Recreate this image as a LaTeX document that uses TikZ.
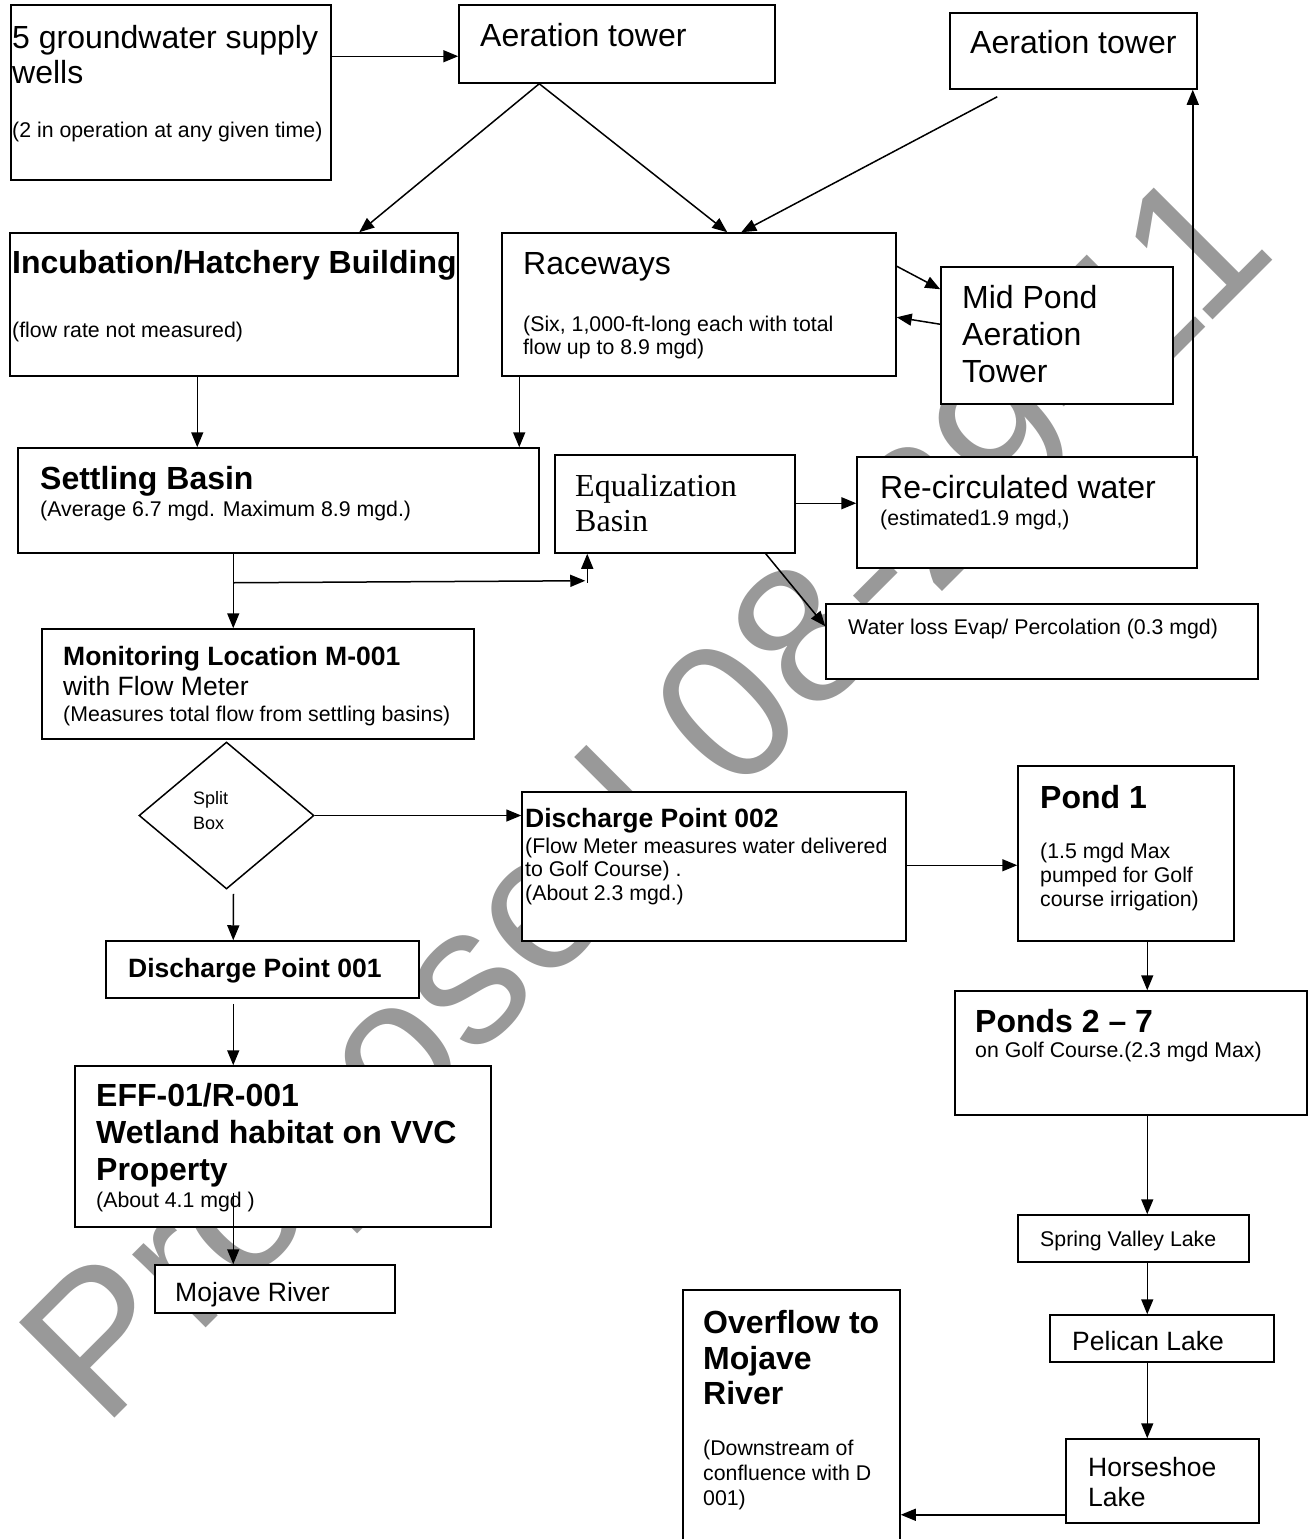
\documentclass[tikz,border=0pt]{standalone}
\usepackage{fontspec}
\setmainfont{Liberation Sans}
\newfontfamily\serifF{Liberation Serif}
\usetikzlibrary{arrows.meta,shapes.geometric}
\tikzset{
  bx/.style={draw, line width=1.5pt, fill=white, rectangle, inner sep=0pt},
  arr/.style={line width=1.5pt, -{Triangle[length=15pt,width=12pt]}},
  ln/.style={anchor=base west, inner sep=0pt},
  big/.style={ln, font=\fontsize{32}{37}\selectfont},
  bigb/.style={ln, font=\fontsize{32}{37}\selectfont\bfseries},
  med/.style={ln, font=\fontsize{26.5}{30}\selectfont},
  medb/.style={ln, font=\fontsize{26.5}{30}\selectfont\bfseries},
  sml/.style={ln, font=\fontsize{21.3}{24}\selectfont},
  tiny/.style={ln, font=\fontsize{18}{20}\selectfont},
  serifbig/.style={ln, font=\fontsize{32}{37}\selectfont\serifF},
  wmark/.style={text=black!40, font=\fontsize{196}{196}\selectfont, inner sep=0pt},
}
\newcommand\mkbox[5]{\node[bx, minimum width={(#4)-(#2)}, minimum height={(#5)-(#3)}] (#1) at ({((#2)+(#4))/2},{((#3)+(#5))/2}) {};}
\begin{document}
\begin{tikzpicture}[x=1pt,y=-1pt]
\useasboundingbox (0,0) rectangle (1309,1539);
% watermark
\node[wmark, rotate=45] (wm) at (656,806) {Proposed 08-29-11};
% boxes
\mkbox{wells}{11}{5}{331}{180}
\mkbox{aerA}{459}{5}{775}{83}
\mkbox{aerB}{950}{13}{1197}{89}
\mkbox{incub}{10}{233}{458}{376}
\mkbox{race}{502}{233}{896}{376}
\mkbox{mid}{941}{267}{1173}{404}
\mkbox{settle}{18}{448}{539}{553}
\mkbox{eq}{555}{455}{795}{553}
\mkbox{rec}{857}{457}{1197}{568}
\mkbox{loss}{826}{604}{1258}{679}
\mkbox{mon}{42}{629}{474}{739}
\node[draw, line width=1.5pt, fill=white, shape=diamond, inner sep=0pt, minimum width=175pt, minimum height=147pt] (split) at (226.5,815.5) {};
\mkbox{dtwo}{522}{792}{906}{941}
\mkbox{pone}{1018}{766}{1234}{941}
\mkbox{done}{106}{941}{419}{998}
\mkbox{eff}{75}{1066}{491}{1227}
\mkbox{moj}{155}{1265}{395}{1313}
\mkbox{ptwo}{955}{991}{1307}{1115}
\mkbox{spr}{1018}{1215}{1249}{1262}
\mkbox{pel}{1050}{1315}{1274}{1362}
\mkbox{hor}{1066}{1439}{1259}{1523}
\mkbox{ovf}{683}{1290}{900}{1548}
% texts
\node[big] (wellsA) at (12,48) {5 groundwater supply};
\node[big] (wellsB) at (12,83) {wells};
\node[sml] (wellsC) at (12,137) {(2 in operation at any given time)};
\node[big] (aerAt) at (480,46) {Aeration tower};
\node[big] (aerBt) at (970,53) {Aeration tower};
\node[bigb] (incubA) at (12,273) {Incubation/Hatchery Building};
\node[sml] (incubB) at (12,337) {(flow rate not measured)};
\node[big] (raceA) at (523,274) {Raceways};
\node[sml] (raceB) at (523,331) {(Six, 1,000-ft-long each with total};
\node[sml] (raceC) at (523,354) {flow up to 8.9 mgd)};
\node[big] (midA) at (962,308) {Mid Pond};
\node[big] (midB) at (962,345) {Aeration};
\node[big] (midC) at (962,382) {Tower};
\node[bigb] (settleA) at (40,489) {Settling Basin};
\node[sml] (settleB) at (40,516) {(Average 6.7 mgd. Maximum 8.9 mgd.)};
\node[serifbig] (eqA) at (575,496) {Equalization};
\node[serifbig] (eqB) at (575,531) {Basin};
\node[big] (recA) at (880,498) {Re-circulated water};
\node[sml] (recB) at (880,525) {(estimated1.9 mgd,)};
\node[sml] (lossA) at (848,634) {Water loss Evap/ Percolation (0.3 mgd)};
\node[medb] (monA) at (63,665) {Monitoring Location M-001};
\node[med] (monB) at (63,695) {with Flow Meter};
\node[sml] (monC) at (63,721) {(Measures total flow from settling basins)};
\node[tiny] (splitA) at (193,804) {Split};
\node[tiny] (splitB) at (193,829) {Box};
\node[medb] (dtwoA) at (525,827) {Discharge Point 002};
\node[sml] (dtwoB) at (525,853) {(Flow Meter measures water delivered};
\node[sml] (dtwoC) at (525,876) {to Golf Course) .};
\node[sml] (dtwoD) at (525,900) {(About 2.3 mgd.)};
\node[bigb] (poneA) at (1040,808) {Pond 1};
\node[sml] (poneB) at (1040,858) {(1.5 mgd Max};
\node[sml] (poneC) at (1040,882) {pumped for Golf};
\node[sml] (poneD) at (1040,906) {course irrigation)};
\node[medb] (doneA) at (128,977) {Discharge Point 001};
\node[bigb] (effA) at (96,1106) {EFF-01/R-001};
\node[bigb] (effB) at (96,1143) {Wetland habitat on VVC};
\node[bigb] (effC) at (96,1180) {Property};
\node[sml] (effD) at (96,1207) {(About 4.1 mgd )};
\node[med] (mojA) at (175,1301) {Mojave River};
\node[bigb] (ptwoA) at (975,1032) {Ponds 2 – 7};
\node[sml] (ptwoB) at (975,1057) {on Golf Course.(2.3 mgd Max)};
\node[sml] (sprA) at (1040,1246) {Spring Valley Lake};
\node[med] (pelA) at (1072,1350) {Pelican Lake};
\node[med] (horA) at (1088,1476) {Horseshoe};
\node[med] (horB) at (1088,1506) {Lake};
\node[bigb] (ovfA) at (703,1333) {Overflow to};
\node[bigb] (ovfB) at (703,1369) {Mojave};
\node[bigb] (ovfC) at (703,1404) {River};
\node[sml] (ovfD) at (703,1455) {(Downstream of};
\node[sml] (ovfE) at (703,1480) {confluence with D};
\node[sml] (ovfF) at (703,1505) {001)};
% connectors
\draw[arr] ([yshift=-52pt]wells.north east) -- ([yshift=-52pt]aerA.north west);
\draw[arr] ([xshift=81pt]aerA.south west) -- ([xshift=350pt]incub.north west);
\draw[arr] ([xshift=81pt]aerA.south west) -- ([xshift=226pt]race.north west);
\draw[arr] ([xshift=48pt,yshift=-7pt]aerB.south west) -- ([xshift=240pt]race.north west);
\draw[arr] ([yshift=-34pt]race.north east) -- ([yshift=-23pt]mid.north west);
\draw[arr] ([yshift=-58pt]mid.north west) -- ([yshift=-85pt]race.north east);
\draw[arr] ([xshift=188pt]incub.south west) -- ([xshift=180pt]settle.north west);
\draw[arr] ([xshift=18pt]race.south west) -- ([xshift=502pt]settle.north west);
\draw[arr] ([xshift=216pt]settle.south west) -- ([xshift=192pt]mon.north west);
\coordinate (br) at ([xshift=216pt,yshift=-29pt]settle.south west);
\coordinate (bend) at ([xshift=33pt,yshift=-27pt]eq.south west);
\draw[arr] (br) -- ([xshift=-2pt]bend);
\draw[arr] ([yshift=-2pt]bend) -- ([xshift=33pt]eq.south west);
\draw[arr] ([yshift=-49pt]eq.north east) -- ([yshift=-47pt]rec.north west);
\draw[arr] ([xshift=-30pt]eq.south east) -- ([yshift=-23pt]loss.north west);
\draw[arr] ([xshift=-5pt]rec.north east) -- ([xshift=-5pt]aerB.south east);
\draw[arr] (split.east) -- (split.east -| dtwo.west);
\draw[arr] ([xshift=7pt,yshift=-4pt]split.south) -- ([xshift=128pt]done.north west);
\draw[arr] ([xshift=128pt,yshift=-5pt]done.south west) -- ([xshift=159pt]eff.north west);
\draw[arr] ([xshift=159pt,yshift=35pt]eff.south west) -- ([xshift=79pt]moj.north west);
\draw[arr] ([yshift=-74pt]dtwo.north east) -- ([yshift=-100pt]pone.north west);
\draw[arr] ([xshift=130pt]pone.south west) -- ([xshift=193pt]ptwo.north west);
\draw[arr] ([xshift=193pt]ptwo.south west) -- ([xshift=130pt]spr.north west);
\draw[arr] ([xshift=130pt]spr.south west) -- ([xshift=98pt]pel.north west);
\draw[arr] ([xshift=98pt]pel.south west) -- ([xshift=82pt]hor.north west);
\draw[arr] ([yshift=9pt]hor.south west) -- ([yshift=9pt]hor.south west -| ovf.east);
\end{tikzpicture}
\end{document}
